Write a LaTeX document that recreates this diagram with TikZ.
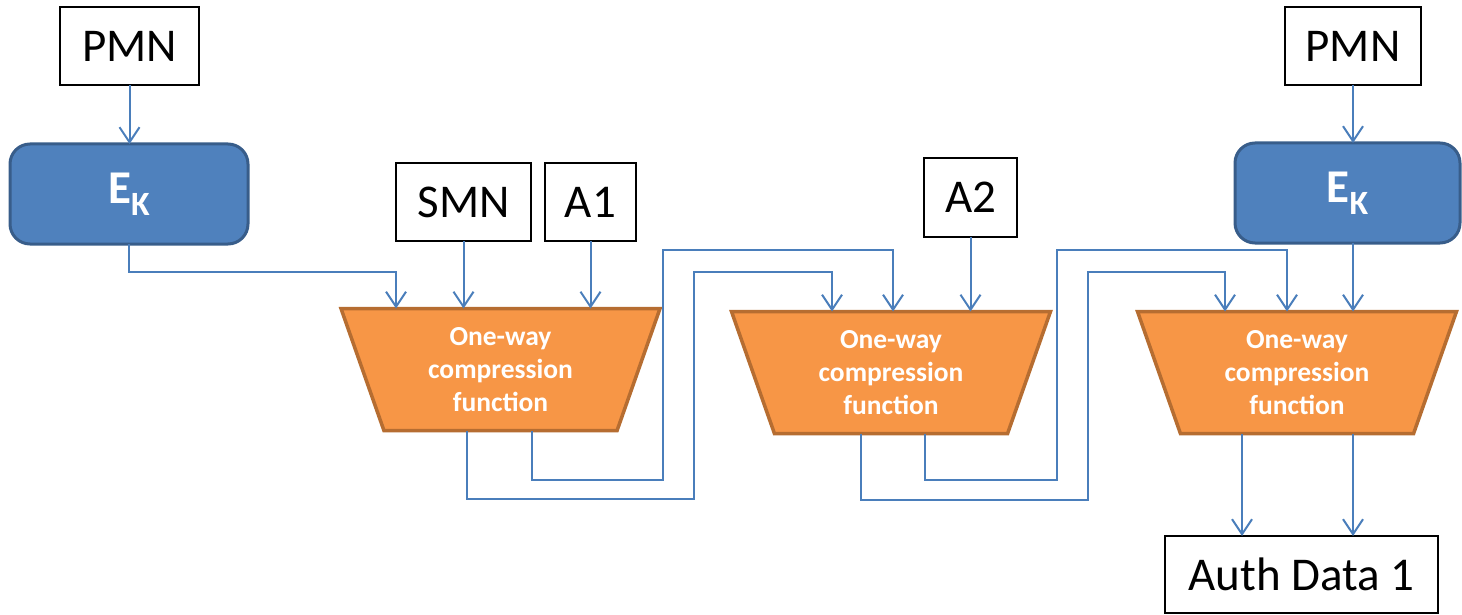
\documentclass[tikz,border=0pt]{standalone}
\usepackage{fontspec}
\setmainfont{Carlito}
\usetikzlibrary{arrows.meta,shapes.geometric,calc}

\definecolor{ekfill}{RGB}{79,129,189}
\definecolor{ekline}{RGB}{56,93,138}
\definecolor{cffill}{RGB}{247,150,70}
\definecolor{cfline}{RGB}{182,109,49}
\definecolor{linkblue}{RGB}{74,126,187}

\tikzset{
  databox/.style={draw=black, fill=white, line width=2pt, inner sep=0pt, outer sep=0pt,
    font=\fontsize{47}{56}\selectfont},
  keybox/.style={draw=ekline, fill=ekfill, line width=3pt, rounded corners=20pt,
    inner sep=0pt, outer sep=0pt, minimum width=238pt, minimum height=100pt,
    text=white, font=\fontsize{47}{56}\selectfont\bfseries},
  cfun/.style={trapezium, trapezium angle=63, shape border rotate=180,
    trapezium stretches body, minimum width=319pt, minimum height=122pt,
    inner sep=0pt, outer sep=0pt, fill=cffill, draw=cfline, line width=3.5pt,
    align=center, text=white, font=\fontsize{27.5}{33}\selectfont\bfseries},
  conn/.style={draw=linkblue, line width=2pt,
    -{Straight Barb[length=15pt,width=20pt,line width=2pt]}},
}

\newcommand{\ektext}{E\raisebox{-12pt}{\fontsize{34}{34}\selectfont\bfseries K}}
\newcommand{\cftext}{One-way\\compression\\function}

\begin{document}
\begin{tikzpicture}[x=1pt,y=-1pt]
  \useasboundingbox (0,0) rectangle (1462,615);

  % input and key blocks
  \node[databox, minimum width=139pt, minimum height=78pt] (pmnL) at (129.5,46) {PMN};
  \node[keybox] (ekL) at (129,194) {\ektext};
  \node[databox, minimum width=135pt, minimum height=78pt] (smn) at (463.5,202) {SMN};
  \node[databox, minimum width=91pt, minimum height=78pt] (a1) at (590.5,202) {A1};
  \node[databox, minimum width=93pt, minimum height=79pt] (a2) at (970.5,197.5) {A2};
  \node[databox, minimum width=136pt, minimum height=78pt] (pmnR) at (1353,46) {PMN};
  \node[keybox, minimum width=225pt] (ekR) at (1347.5,193) {\ektext};
  \node[databox, minimum width=273pt, minimum height=77pt] (auth) at (1301.5,574.5) {Auth Data 1};

  % compression stages
  \node[cfun] (t1) at (500.5,369.5) {\cftext};
  \node[cfun] (t2) at (891,372.5) {\cftext};
  \node[cfun] (t3) at (1297,372.5) {\cftext};

  % stage 1 inputs
  \draw[conn] (pmnL.south) -- (pmnL.south |- ekL.north);
  \draw[conn] (ekL.south) -- ++(0,28) -| ([xshift=-104.5pt]t1.north);
  \draw[conn] (smn.south) -- (smn.south |- t1.north);
  \draw[conn] (a1.south) -- (a1.south |- t1.north);

  % stage 1 -> stage 2
  \draw[conn] ([xshift=-33.5pt]t1.south) -- ++(0,68.5) -- ++(227,0) -- ++(0,-227)
    -| ([xshift=-59pt]t2.north);
  \draw[conn] ([xshift=31.5pt]t1.south) -- ++(0,49.5) -- ++(131,0) -- ++(0,-230)
    -| ([xshift=2pt]t2.north);
  \draw[conn] (a2.south) -- (a2.south |- t2.north);

  % stage 2 -> stage 3
  \draw[conn] ([xshift=-30pt]t2.south) -- ++(0,66.5) -- ++(227,0) -- ++(0,-228)
    -| ([xshift=-72pt]t3.north);
  \draw[conn] ([xshift=34pt]t2.south) -- ++(0,46.5) -- ++(132,0) -- ++(0,-230)
    -| ([xshift=-10pt]t3.north);
  \draw[conn] (pmnR.south) -- (pmnR.south |- ekR.north);
  \draw[conn] (pmnR.south |- ekR.south) -- (pmnR.south |- t3.north);

  % outputs
  \draw[conn] ([xshift=-55pt]t3.south) -- ([xshift=-55pt]t3.south |- auth.north);
  \draw[conn] ([xshift=56pt]t3.south) -- ([xshift=56pt]t3.south |- auth.north);
\end{tikzpicture}
\end{document}
